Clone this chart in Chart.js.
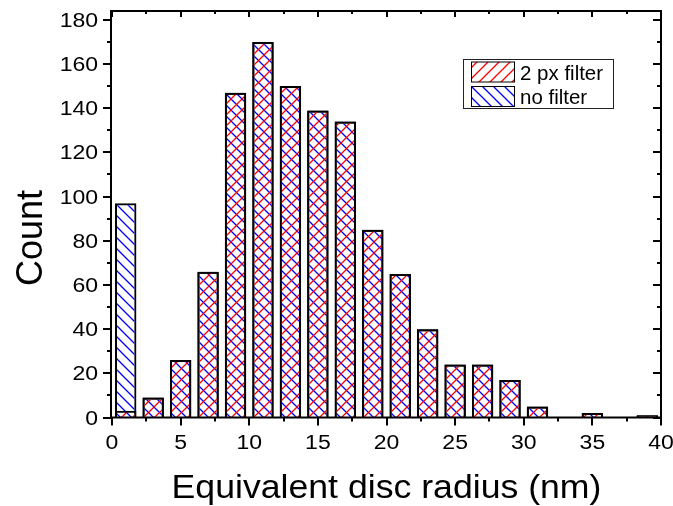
<!DOCTYPE html>
<html>
<head>
<meta charset="utf-8">
<script src="https://cdn.jsdelivr.net/npm/chart.js@4/dist/chart.umd.min.js"></script>
<style>
  html, body { margin: 0; padding: 0; background: #fff; }
  #wrap { width: 673px; height: 506px; }
</style>
</head>
<body>
<div id="wrap"><canvas id="c" width="673" height="506"></canvas></div>
<script>
// Histogram bins (2 nm wide), given by their centres
const binCenters = [1, 3, 5, 7, 9, 11, 13, 15, 17, 19, 21, 23, 25, 27, 29, 31, 33, 35, 37, 39];
// Counts per bin
const filteredCounts   = [3, 9, 26, 66, 147, 170, 150, 139, 134, 85, 65, 40, 24, 24, 17, 5, 0, 2, 0, 1];
const unfilteredCounts = [97, 9, 26, 66, 147, 170, 150, 139, 134, 85, 65, 40, 24, 24, 17, 5, 0, 2, 0, 1];
const seriesNames = ['2 px filter', 'no filter'];
// Axis ticks and titles
const xTickValues = [0, 5, 10, 15, 20, 25, 30, 35, 40];
const yTickValues = [0, 20, 40, 60, 80, 100, 120, 140, 160, 180];
const xTitle = 'Equivalent disc radius (nm)';
const yTitle = 'Count';

const FONT = '"Liberation Sans", Arial, sans-serif';

// Diagonal hatch pattern; dir = 1 draws "/" lines, dir = -1 draws "\" lines
function hatch(color, dir) {
  const s = 11;
  const c = document.createElement('canvas');
  c.width = s; c.height = s;
  const g = c.getContext('2d');
  g.strokeStyle = color;
  g.lineWidth = 1.3;
  g.beginPath();
  if (dir > 0) {
    g.moveTo(-1, s + 1); g.lineTo(s + 1, -1);
    g.moveTo(-1, 1); g.lineTo(1, -1);
    g.moveTo(s - 1, s + 1); g.lineTo(s + 1, s - 1);
  } else {
    g.moveTo(-1, -1); g.lineTo(s + 1, s + 1);
    g.moveTo(s - 1, -1); g.lineTo(s + 1, 1);
    g.moveTo(-1, s - 1); g.lineTo(1, s + 1);
  }
  g.stroke();
  return g.createPattern(c, 'repeat');
}

const redHatch = hatch('#ff0000', 1);
const blueHatch = hatch('#0000ff', -1);

function drawText(ctx, s, x, y, size, align, sx) {
  ctx.save();
  ctx.font = size + 'px ' + FONT;
  ctx.fillStyle = '#000';
  ctx.textAlign = align;
  ctx.textBaseline = 'alphabetic';
  ctx.translate(x, y);
  ctx.scale(sx, 1);
  ctx.fillText(s, 0, 0);
  ctx.restore();
}

// Frame, inner/outer tick marks, tick labels, axis titles and legend box
const framePlugin = {
  id: 'frame',
  afterDraw(chart) {
    const ctx = chart.ctx;
    const ca = chart.chartArea;
    const xs = chart.scales.x, ys = chart.scales.y;
    const x0 = ca.left - 1, x1 = ca.right, y0 = ca.top, y1 = ca.bottom;

    ctx.save();
    ctx.strokeStyle = '#000';
    ctx.lineWidth = 2;
    ctx.strokeRect(x0, y0, x1 - x0, y1 - y0);

    ctx.beginPath();
    // x ticks: major every 5, minor half-way between
    xTickValues.forEach((v, i) => {
      const px = Math.round(xs.getPixelForValue(v));
      ctx.moveTo(px, y1); ctx.lineTo(px, y1 + 8);
      ctx.moveTo(px, y0); ctx.lineTo(px, y0 + 6);
      if (i < xTickValues.length - 1) {
        const pm = Math.round(xs.getPixelForValue((v + xTickValues[i + 1]) / 2));
        ctx.moveTo(pm, y1); ctx.lineTo(pm, y1 + 4);
        ctx.moveTo(pm, y0); ctx.lineTo(pm, y0 + 3);
      }
    });
    // y ticks: major every 20, minor every 10
    yTickValues.forEach((v, i) => {
      const py = Math.round(ys.getPixelForValue(v));
      ctx.moveTo(x0, py); ctx.lineTo(x0 - 8, py);
      ctx.moveTo(x1, py); ctx.lineTo(x1 - 8, py);
      if (i < yTickValues.length - 1) {
        const pm = Math.round(ys.getPixelForValue((v + yTickValues[i + 1]) / 2));
        ctx.moveTo(x0, pm); ctx.lineTo(x0 - 4, pm);
        ctx.moveTo(x1, pm); ctx.lineTo(x1 - 4, pm);
      }
    });
    ctx.stroke();
    ctx.restore();

    // tick labels
    xTickValues.forEach(v => {
      drawText(ctx, String(v), xs.getPixelForValue(v), 448.5, 20, 'center', 1.15);
    });
    yTickValues.forEach(v => {
      drawText(ctx, String(v), 98, ys.getPixelForValue(v) + 7.1, 20, 'right', 1.15);
    });

    // axis titles
    drawText(ctx, xTitle, (ca.left + ca.right) / 2, 497.5, 33, 'center', 1.08);
    ctx.save();
    ctx.translate(41.5, 238);
    ctx.rotate(-Math.PI / 2);
    ctx.font = '36px ' + FONT;
    ctx.fillStyle = '#000';
    ctx.textAlign = 'center';
    ctx.textBaseline = 'alphabetic';
    ctx.fillText(yTitle, 0, 0);
    ctx.restore();

    // legend
    ctx.save();
    ctx.strokeStyle = '#222';
    ctx.lineWidth = 1;
    ctx.strokeRect(463.5, 59.5, 150, 49);
    chart.data.datasets.forEach((ds, i) => {
      const top = 62 + i * 24.5;
      ctx.fillStyle = '#fff';
      ctx.fillRect(471.5, top, 43, 20);
      ctx.fillStyle = ds.backgroundColor;
      ctx.fillRect(471.5, top, 43, 20);
      ctx.strokeStyle = '#000';
      ctx.strokeRect(471.5, top, 43, 20);
      drawText(ctx, ds.label, 520, top + 17.5, 19.5, 'left', 1.05);
    });
    ctx.restore();
  }
};

new Chart(document.getElementById('c'), {
  type: 'bar',
  data: {
    datasets: [
      {
        label: seriesNames[0],
        data: binCenters.map((x, i) => ({ x: x, y: filteredCounts[i] })),
        backgroundColor: redHatch,
        borderColor: '#000',
        borderWidth: 2,
        grouped: false,
        categoryPercentage: 0.78,
        barPercentage: 1
      },
      {
        label: seriesNames[1],
        data: binCenters.map((x, i) => ({ x: x, y: unfilteredCounts[i] })),
        backgroundColor: blueHatch,
        borderColor: '#000',
        borderWidth: 2,
        grouped: false,
        categoryPercentage: 0.78,
        barPercentage: 1
      }
    ]
  },
  options: {
    responsive: false,
    animation: false,
    devicePixelRatio: 1,
    layout: { padding: { top: 11, right: 12, left: 0, bottom: 0 } },
    plugins: { legend: { display: false }, tooltip: { enabled: false } },
    scales: {
      x: {
        type: 'linear', min: 0, max: 40, offset: false,
        grid: { display: false }, border: { display: false },
        ticks: { display: false },
        afterFit: s => { s.height = 88.5; }
      },
      y: {
        type: 'linear', min: 0, max: 184,
        grid: { display: false }, border: { display: false },
        ticks: { display: false },
        afterFit: s => { s.width = 112; }
      }
    }
  },
  plugins: [framePlugin]
});
</script>
</body>
</html>
